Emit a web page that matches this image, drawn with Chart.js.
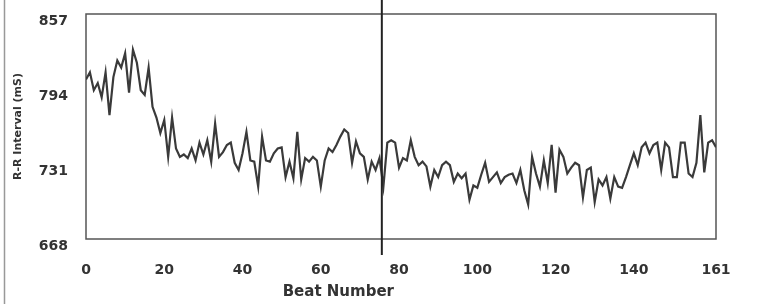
<!DOCTYPE html>
<html>
<head>
<meta charset="utf-8">
<title>R-R Interval</title>
<script src="https://cdn.jsdelivr.net/npm/chart.js@4.4.1/dist/chart.umd.min.js"></script>
<style>
  html, body { margin: 0; padding: 0; background: #fff; }
</style>
</head>
<body>
<canvas id="rrChart" width="763" height="304"></canvas>
<script>
// R-R interval (mS) per beat
const rrValues = [
  802, 808, 793, 799, 787, 808, 772, 804, 818, 812,
  824, 791, 827, 816, 793, 789, 812, 779, 770, 757,
  768, 737, 770, 744, 737, 739, 736, 744, 734, 749,
  739, 751, 733, 765, 737, 741, 747, 749, 732, 726,
  740, 758, 734, 733, 712, 754, 734, 733, 740, 744,
  745, 720, 733, 719, 758, 718, 736, 733, 737, 734,
  712, 734, 744, 741, 747, 754, 760, 757, 732, 750,
  740, 737, 718, 733, 726, 736, 712, 749, 751, 749,
  728, 736, 734, 751, 737, 730, 733, 729, 712, 726,
  720, 730, 733, 730, 716, 723, 719, 723, 701, 713,
  711, 722, 732, 716, 720, 724, 715, 720, 722, 723,
  715, 726, 709, 697, 737, 723, 712, 734, 715, 747,
  707, 743, 737, 723, 728, 732, 730, 703, 726, 728,
  699, 718, 713, 720, 702, 720, 712, 711, 720, 730,
  740, 730, 745, 749, 740, 747, 749, 726, 749, 745,
  720, 720, 749, 749, 723, 720, 732, 772, 724, 749,
  751, 745
];
const beatNumbers = rrValues.map((v, i) => i);
const xTickValues = [0, 20, 40, 60, 80, 100, 120, 140, 161];
const yTickValues = [668, 731, 794, 857];
const markerBeat = 75.6; // vertical cursor line

const textColor = '#333';
const tickFont = { family: 'DejaVu Sans', size: 14, weight: 'bold' };

const framePlugin = {
  id: 'frame',
  beforeDatasetsDraw(chart) {
    const { ctx, chartArea: a } = chart;
    ctx.save();
    ctx.strokeStyle = '#555';
    ctx.lineWidth = 1.5;
    ctx.strokeRect(a.left, a.top, a.right - a.left, a.bottom - a.top);
    // scan edge on the far left
    ctx.strokeStyle = '#999';
    ctx.lineWidth = 1.5;
    ctx.beginPath();
    ctx.moveTo(4.5, 0);
    ctx.lineTo(4.5, chart.height);
    ctx.stroke();
    ctx.restore();
  },
  afterDatasetsDraw(chart) {
    const { ctx, chartArea: a } = chart;
    const x = chart.scales.x.getPixelForValue(markerBeat);
    ctx.save();
    ctx.strokeStyle = '#222';
    ctx.lineWidth = 2;
    ctx.beginPath();
    ctx.moveTo(x, 0);
    ctx.lineTo(x, a.bottom + 16);
    ctx.stroke();
    ctx.restore();
  }
};

new Chart(document.getElementById('rrChart'), {
  type: 'line',
  data: {
    labels: beatNumbers,
    datasets: [{
      data: rrValues,
      borderColor: '#3a3a3a',
      borderWidth: 2.2,
      pointRadius: 0,
      tension: 0,
      fill: false
    }]
  },
  options: {
    responsive: false,
    animation: false,
    layout: { padding: { top: 14, right: 47, left: 0, bottom: 0 } },
    plugins: {
      legend: { display: false },
      tooltip: { enabled: false }
    },
    scales: {
      x: {
        type: 'linear',
        min: 0,
        max: 161,
        afterBuildTicks: axis => { axis.ticks = xTickValues.map(v => ({ value: v })); },
        afterFit: s => { s.height = 65; },
        grid: { display: false, drawTicks: false },
        border: { display: false },
        ticks: { font: tickFont, color: textColor, padding: 23, maxRotation: 0, autoSkip: false },
        title: {
          display: true,
          // trailing spaces push the centred title left, as in the scan
          text: 'Beat Number' + '\u00a0'.repeat(24),
          color: textColor,
          font: { family: 'DejaVu Sans', size: 15, weight: 'bold' },
          padding: { top: 0, bottom: 3 }
        }
      },
      y: {
        min: 668,
        max: 857,
        afterBuildTicks: axis => { axis.ticks = yTickValues.map(v => ({ value: v })); },
        afterFit: s => { s.width = 86; s.paddingTop = 0; s.paddingBottom = 0; },
        grid: { display: false, drawTicks: false },
        border: { display: false },
        // labels sit just below their tick level in the scan
        ticks: { font: tickFont, color: textColor, padding: 18, align: 'start' },
        title: {
          display: true,
          text: 'R-R Interval (mS)',
          color: textColor,
          font: { family: 'DejaVu Sans', size: 11, weight: 'bold' },
          padding: { top: 12, bottom: 0 }
        }
      }
    }
  },
  plugins: [framePlugin]
});
</script>
</body>
</html>
